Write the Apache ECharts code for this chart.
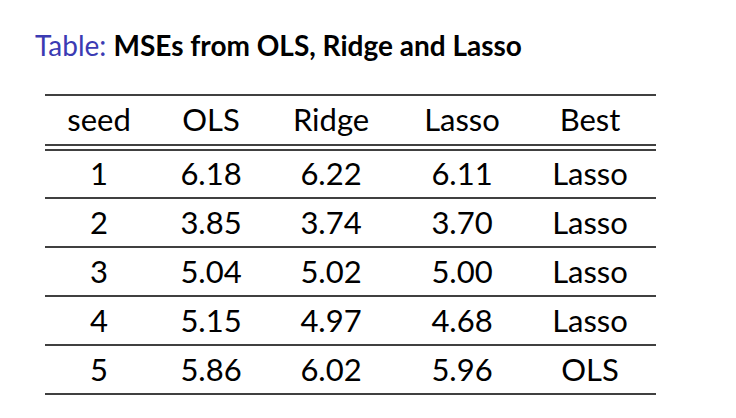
<!DOCTYPE html>
<html><head><meta charset="utf-8">
<script src="https://cdn.jsdelivr.net/npm/echarts@6/dist/echarts.min.js"></script>
<style>html,body{margin:0;background:#fff}#main{width:736px;height:418px}</style>
</head><body><div id="main"></div>
<script>
const headers = ['seed', 'OLS', 'Ridge', 'Lasso', 'Best'];
const seeds = ['1', '2', '3', '4', '5'];
const ols = ['6.18', '3.85', '5.04', '5.15', '5.86'];
const ridge = ['6.22', '3.74', '5.02', '4.97', '6.02'];
const lasso = ['6.11', '3.70', '5.00', '4.68', '5.96'];
const best = ['Lasso', 'Lasso', 'Lasso', 'Lasso', 'OLS'];

const chart = echarts.init(document.getElementById('main'), null, { renderer: 'svg' });
const colX = [99, 211, 331, 462, 590];
const left = 45, right = 656;
const font = '"Lato", "DejaVu Sans", sans-serif';
const els = [];
const line = (y) => els.push({ type: 'line', shape: { x1: left, y1: y, x2: right, y2: y }, style: { stroke: '#000', lineWidth: 1.3 } });
const cell = (t, x, y) => els.push({ type: 'text', x: x, y: y, style: { text: t, font: '31px ' + font, fill: '#000', align: 'center', verticalAlign: 'middle' } });

els.push({ type: 'text', x: 35, y: 45, style: { rich: { a: { fill: '#3b3bb3', font: '28px ' + font }, b: { fill: '#000', font: 'bold 28px ' + font } }, text: '{a|Table: }{b|MSEs from OLS, Ridge and Lasso}', verticalAlign: 'middle' } });

line(95);
headers.forEach((h, i) => cell(h, colX[i], 119));
line(145); line(150);
const cols = [seeds, ols, ridge, lasso, best];
seeds.forEach((s, r) => {
  const y = 173 + r * 49;
  cols.forEach((c, i) => cell(c[r], colX[i], y));
  line(198 + r * 49);
});

chart.setOption({ animation: false, graphic: { elements: els } });
</script></body></html>
